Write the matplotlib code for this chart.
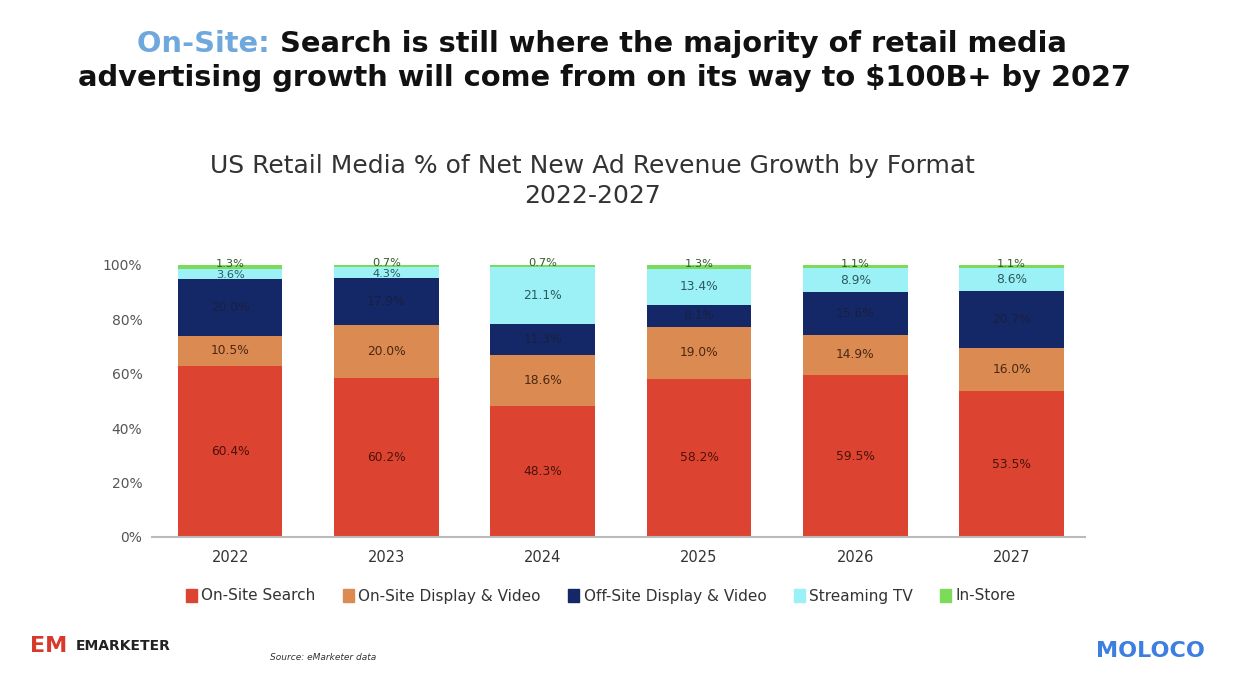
import matplotlib
matplotlib.use("Agg")
import matplotlib.pyplot as plt
import numpy as np
from matplotlib.patches import Rectangle

years = ["2022", "2023", "2024", "2025", "2026", "2027"]
series_names = ["On-Site Search", "On-Site Display & Video", "Off-Site Display & Video",
                "Streaming TV", "In-Store"]
onsite_search = [60.4, 60.2, 48.3, 58.2, 59.5, 53.5]
onsite_display = [10.5, 20.0, 18.6, 19.0, 14.9, 16.0]
offsite_display = [20.0, 17.9, 11.3, 8.1, 15.6, 20.7]
streaming_tv = [3.6, 4.3, 21.1, 13.4, 8.9, 8.6]
in_store = [1.3, 0.7, 0.7, 1.3, 1.1, 1.1]
yticks = [0, 20, 40, 60, 80, 100]

colors = ["#DC4431", "#DB8A52", "#142868", "#9BF1F6", "#7DDB5A"]
label_colors = ["#4a1208", "#4a2810", "#1a1f40", "#2b5a5e", "#2f5a2a"]

plt.rcParams['font.family'] = ['DejaVu Sans']

fig = plt.figure(figsize=(12.46, 6.9), dpi=100)
ax = fig.add_axes([152/1246, (690-537)/690, (1085-152)/1246, (537-265)/690])

data = np.array([onsite_search, onsite_display, offsite_display, streaming_tv, in_store])
totals = data.sum(axis=0)
shares = data / totals * 100
x = np.arange(len(years))
bottom = np.zeros(len(years))
for i in range(len(series_names)):
    ax.bar(x, shares[i], 0.67, bottom=bottom, color=colors[i], label=series_names[i], zorder=2)
    for j in range(len(years)):
        yc = bottom[j] + shares[i][j] / 2
        fs = 8.8
        if i == 4:
            yc = bottom[j] + shares[i][j] / 2 + 1.0
            fs = 8.2
        elif i == 3 and shares[i][j] < 6:
            yc = bottom[j] + shares[i][j] / 2 - 0.6
            fs = 8.2
        ax.text(x[j], yc, f"{data[i][j]:.1f}%", ha="center", va="center",
                fontsize=fs, color=label_colors[i], zorder=3)
    bottom += shares[i]

ax.set_xlim(-0.5, 5.47)
ax.set_ylim(0, 100)
ax.set_yticks(yticks)
ax.set_yticklabels([f"{v}%" for v in yticks], fontsize=10, color="#555555")
ax.set_xticks(x)
ax.set_xticklabels(years, fontsize=10.5, color="#333333")
for s in ["top", "right", "left"]:
    ax.spines[s].set_visible(False)
ax.spines["bottom"].set_color("#bbbbbb")
ax.spines["bottom"].set_linewidth(1.5)
ax.tick_params(axis="both", length=0)
ax.tick_params(axis="y", pad=7)
ax.tick_params(axis="x", pad=9)

# Headline
hs = 20.8
renderer = fig.canvas.get_renderer()
t1 = fig.text(137/1246, 1 - 44/690, "On-Site: ", fontsize=hs, fontweight="bold",
              color="#6FA8DC", ha="left", va="center")
bb = t1.get_window_extent(renderer)
fig.text(bb.x1 / fig.bbox.width, 1 - 44/690, "Search is still where the majority of retail media",
         fontsize=hs, fontweight="bold", color="#111111", ha="left", va="center")
fig.text(604/1246, 1 - 78/690, "advertising growth will come from on its way to $100B+ by 2027",
         fontsize=hs, fontweight="bold", color="#111111", ha="center", va="center")

# Chart title
fig.text(592/1246, 1 - 166/690, "US Retail Media % of Net New Ad Revenue Growth by Format",
         fontsize=18, color="#333333", ha="center", va="center")
fig.text(592/1246, 1 - 196/690, "2022-2027", fontsize=18, color="#333333", ha="center", va="center")

# Legend
handles = [Rectangle((0, 0), 1, 1, color=c) for c in colors]
fig.legend(handles, series_names, loc="center", bbox_to_anchor=(601/1246, 1 - 596/690),
           ncol=5, frameon=False, fontsize=11, handlelength=0.7, handleheight=0.9,
           handletextpad=0.3, columnspacing=1.8, labelcolor="#333333")

# Footer logos / source
fig.text(30/1246, 1 - 646/690, "EM", fontsize=16, fontweight="bold", color="#D9392B",
         ha="left", va="center")
fig.text(76/1246, 1 - 646/690, "EMARKETER", fontsize=10, fontweight="bold", color="#222222",
         ha="left", va="center")
fig.text(270/1246, 1 - 657/690, "Source: eMarketer data", fontsize=6.5, style="italic",
         color="#333333", ha="left", va="center")
fig.text(1150/1246, 1 - 651/690, "MOLOCO", fontsize=16, fontweight="bold", color="#3D7FE0",
         ha="center", va="center")

fig.savefig("out.png", dpi=100, facecolor="white")
